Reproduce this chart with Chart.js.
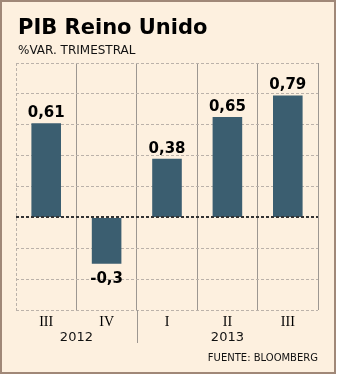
<!DOCTYPE html>
<html>
<head>
<meta charset="utf-8">
<script src="https://cdn.jsdelivr.net/npm/chart.js@4.4.1/dist/chart.umd.min.js"></script>
<style>
  html, body { margin: 0; padding: 0; background: #fff; }
  #wrap { width: 338px; height: 376px; }
</style>
</head>
<body>
<div id="wrap"><canvas id="chartPib" width="338" height="376"></canvas></div>
<script>
// datos: PIB Reino Unido, % var. trimestral
const quarters = ['III', 'IV', 'I', 'II', 'III']
const years = ['2012', '2013']
const yearFirst = [0, 2]
const yearLast = [1, 4]
const pibVar = [0.61, -0.3, 0.38, 0.65, 0.79]

const barColor = '#3b5e70'
const gridColor = '#bbb2aa'
const vLineColor = '#9d9791'

const frameAndText = {
    id: 'frameAndText',
    beforeDraw(chart) {
        const ctx = chart.ctx
        ctx.save()
        ctx.fillStyle = '#fff'
        ctx.fillRect(0, 0, chart.width, chart.height)
        ctx.fillStyle = '#fdf0df'
        ctx.fillRect(1, 1, 334, 372)
        ctx.strokeStyle = '#a08878'
        ctx.lineWidth = 2
        ctx.strokeRect(1, 1, 334, 372)

        ctx.fillStyle = '#000'
        ctx.textAlign = 'left'
        ctx.textBaseline = 'alphabetic'
        ctx.font = 'bold 21px "DejaVu Sans"'
        ctx.fillText('PIB Reino Unido', 18, 34)
        ctx.fillStyle = '#111'
        ctx.font = '12px "DejaVu Sans"'
        ctx.fillText('%VAR. TRIMESTRAL', 18, 54)

        ctx.textAlign = 'right'
        ctx.font = '10px "DejaVu Sans"'
        ctx.fillText('FUENTE: BLOOMBERG', 318, 361)
        ctx.restore()
    },
    afterDatasetsDraw(chart) {
        const ctx = chart.ctx
        const area = chart.chartArea
        const x = chart.scales.x
        const y = chart.scales.y
        ctx.save()

        // linea del cero
        const y0 = Math.round(y.getPixelForValue(0))
        ctx.strokeStyle = '#333'
        ctx.lineWidth = 2
        ctx.setLineDash([3, 2])
        ctx.beginPath()
        ctx.moveTo(area.left, y0)
        ctx.lineTo(area.right, y0)
        ctx.stroke()
        ctx.setLineDash([])

        // separador de años
        for (let i = 1; i < years.length; i++) {
            const sx = Math.round((x.getPixelForValue(yearLast[i - 1]) + x.getPixelForValue(yearFirst[i])) / 2) + 0.5
            ctx.strokeStyle = vLineColor
            ctx.lineWidth = 1
            ctx.beginPath()
            ctx.moveTo(sx, area.bottom)
            ctx.lineTo(sx, area.bottom + 33)
            ctx.stroke()
        }

        // años
        ctx.fillStyle = '#111'
        ctx.font = '13px "DejaVu Sans"'
        ctx.textAlign = 'center'
        ctx.textBaseline = 'middle'
        years.forEach((yr, i) => {
            const cx = (x.getPixelForValue(yearFirst[i]) + x.getPixelForValue(yearLast[i])) / 2
            ctx.fillText(yr, cx, area.bottom + 28)
        })

        // etiquetas de valor
        ctx.fillStyle = '#000'
        ctx.font = 'bold 15px "DejaVu Sans"'
        const meta = chart.getDatasetMeta(0)
        meta.data.forEach((bar, i) => {
            const v = pibVar[i]
            const txt = String(v).replace('.', ',')
            if (v >= 0) {
                ctx.textBaseline = 'alphabetic'
                ctx.fillText(txt, bar.x, bar.y - 6)
            } else {
                ctx.textBaseline = 'top'
                ctx.fillText(txt, bar.x, bar.y + 8)
            }
        })
        ctx.restore()
    }
}

const dataPib = {
    labels: quarters,
    datasets: [
        {
            data: pibVar,
            backgroundColor: barColor,
            barPercentage: 0.49,
            categoryPercentage: 1
        }
    ]
}

const configPib = {
    type: 'bar',
    data: dataPib,
    options: {
        responsive: false,
        devicePixelRatio: 1,
        animation: false,
        layout: {
            padding: { top: 63, left: 16, right: 20, bottom: 6 }
        },
        plugins: {
            legend: { display: false },
            tooltip: { enabled: false }
        },
        scales: {
            x: {
                afterFit: (scale) => { scale.height = 60 },
                grid: {
                    offset: true,
                    drawTicks: false,
                    lineWidth: 1,
                    color: (c) => (c.index === 0 || c.index === quarters.length) ? gridColor : vLineColor
                },
                border: {
                    display: false,
                    dash: (c) => (c.index === 0 || c.index === quarters.length) ? [3, 2] : []
                },
                ticks: {
                    padding: 4,
                    autoSkip: false,
                    maxRotation: 0,
                    color: '#000',
                    font: { family: 'Liberation Serif', size: 14 }
                }
            },
            y: {
                min: -0.6,
                max: 1.0,
                afterFit: (scale) => { scale.width = 0 },
                grid: {
                    drawTicks: false,
                    lineWidth: 1,
                    color: (c) => Math.abs(c.tick.value) < 1e-9 ? 'rgba(0,0,0,0)' : gridColor
                },
                border: { display: false, dash: [3, 2] },
                ticks: { display: false, stepSize: 0.2 }
            }
        }
    },
    plugins: [frameAndText]
}

let chartPib = new Chart(
    document.getElementById('chartPib'),
    configPib
)
</script>
</body>
</html>
